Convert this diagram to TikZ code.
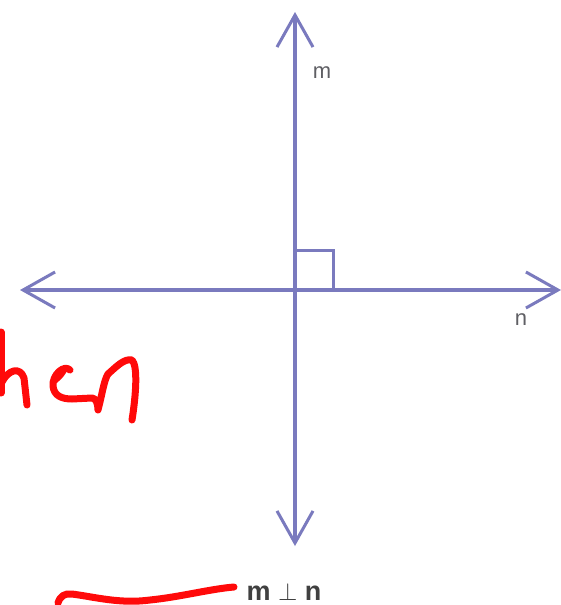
\documentclass[tikz,border=0pt]{standalone}
\usepackage{fontspec}
\setmainfont{Liberation Sans}
\usetikzlibrary{arrows.meta}
\definecolor{linecol}{RGB}{122,122,190}
\definecolor{labcol}{RGB}{95,95,100}
\definecolor{inkred}{RGB}{255,10,10}
\tikzset{
  axis/.style={draw=linecol, line width=3.2pt,
    {Straight Barb[length=32pt,width=36pt,line width=3pt]}-{Straight Barb[length=32pt,width=36pt,line width=3pt]}},
  lab/.style={text=labcol, font=\fontsize{22}{22}\selectfont, inner sep=0pt},
  ink/.style={draw=inkred, line width=7pt, line cap=round, line join=round}
}
\begin{document}
\begin{tikzpicture}[x=1pt,y=-1pt]
\useasboundingbox (0,0) rectangle (561,605);
\fill[white] (0,0) rectangle (561,605);
\coordinate (mtop) at (295,12);
\coordinate (mbot) at (295,546);
\coordinate (nleft) at (20,290);
\coordinate (nright) at (561,290);
\coordinate (o) at (295,290);
\draw[axis] (mbot) -- (mtop);
\draw[axis] (nleft) -- (nright);
\draw[draw=linecol, line width=3pt] (295,250) -- (333,250) -- (333,290);
\node[lab] (lm) at (322,73) {m};
\node[lab] (ln) at (521,320) {n};
\node[text=black!75, font=\bfseries\fontsize{27}{27}\selectfont, inner sep=0pt] (perp) at (284,592) {m $\perp$ n};
% handwriting
\draw[ink] (1,332) -- (1,393);
\draw[ink] (2,382) .. controls (8,370) and (20,366) .. (24,378) -- (27,405);
\fill[inkred] (68,368) .. controls (58,366) and (52,376) .. (53,386) .. controls (58,382) and (66,376) .. (68,368) -- cycle;
\draw[ink] (70,370) .. controls (64,364) and (52,375) .. (53,386) .. controls (54,396) and (62,399) .. (72,399) -- (92,398) .. controls (96,398) and (98,404) .. (98,410) .. controls (102,395) and (104,380) .. (108,374) .. controls (115,368) and (124,358) .. (132,360) .. controls (138,366) and (136,395) .. (132,420);
\draw[ink] (58,603) .. controls (60,596) and (65,593) .. (72,594) .. controls (95,597) and (120,604) .. (150,600) .. controls (180,597) and (210,589) .. (234,587);
\end{tikzpicture}
\end{document}
